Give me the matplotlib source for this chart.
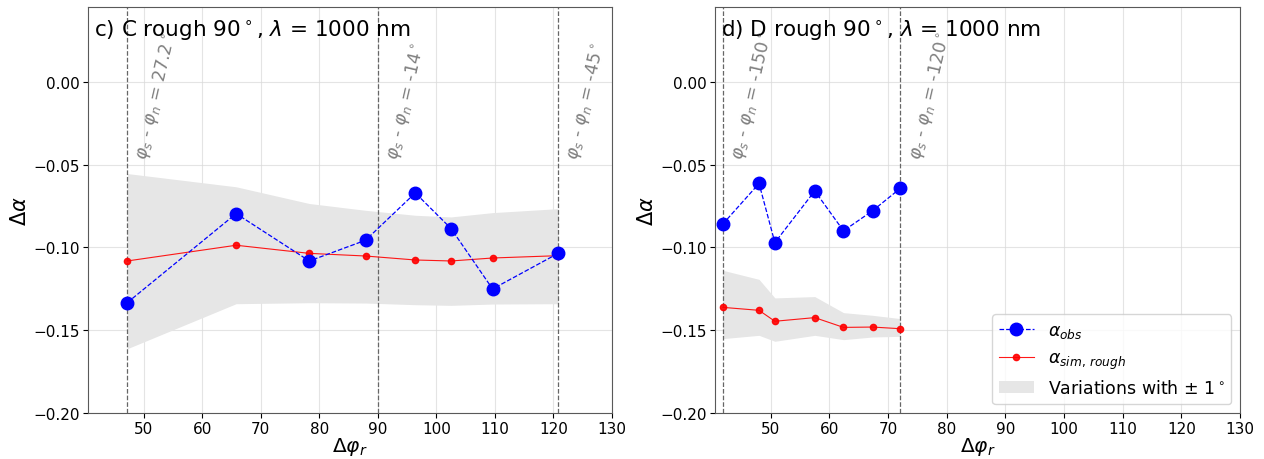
import numpy as np
import matplotlib
matplotlib.use("Agg")
import matplotlib.pyplot as plt
from matplotlib.lines import Line2D
from matplotlib.patches import Patch

# panel c) C rough
c_phi = [47.2, 65.8, 78.3, 87.9, 96.4, 102.5, 109.6, 120.8]
c_obs = [-0.1334, -0.0796, -0.1082, -0.0957, -0.0671, -0.0886, -0.1251, -0.1036]
c_sim = [-0.1082, -0.0987, -0.1036, -0.1052, -0.1076, -0.1082, -0.1064, -0.1050]
c_upper = [-0.0554, -0.0634, -0.0735, -0.0776, -0.0806, -0.0816, -0.0790, -0.0766]
c_lower = [-0.1612, -0.1340, -0.1334, -0.1336, -0.1346, -0.1350, -0.1342, -0.1340]
c_vlines = [47.2, 90.0, 120.8]
c_vlabels = ["27.2", "-14", "-45"]

# panel d) D rough
d_phi = [41.8, 48.0, 50.7, 57.5, 62.4, 67.35, 72.1]
d_obs = [-0.0860, -0.0614, -0.0971, -0.0659, -0.0900, -0.0779, -0.0643]
d_sim = [-0.1362, -0.1380, -0.1446, -0.1424, -0.1483, -0.1481, -0.1491]
d_upper = [-0.1138, -0.1193, -0.1305, -0.1297, -0.1394, -0.1410, -0.1430]
d_lower = [-0.1551, -0.1531, -0.1567, -0.1531, -0.1557, -0.1541, -0.1537]
d_vlines = [41.8, 72.1]
d_vlabels = ["-150", "-120"]

fig = plt.figure(figsize=(12.64, 4.6), dpi=100)
ax1 = fig.add_axes([0.0696, 0.1, 0.4146, 0.882])
ax2 = fig.add_axes([0.5657, 0.1, 0.4153, 0.882])


def draw_panel(ax, title, phi, obs, sim, upper, lower, vlines, vlabels):
    ax.fill_between(phi, lower, upper, color='0.9', lw=0, zorder=1)
    ax.plot(phi, sim, '.-', color='red', lw=0.8, ms=9, alpha=0.9, zorder=3)
    ax.plot(phi, obs, 'o--', color='blue', lw=0.9, ms=9, zorder=4)
    for xv, lab in zip(vlines, vlabels):
        ax.axvline(xv, color='0.4', ls='--', lw=0.9, zorder=2)
        ax.text(xv + 0.8, -0.048, r'$\varphi_s$ - $\varphi_n$ = ' + lab + r'$^\circ$',
                rotation=77, ha='left', va='bottom', color='gray', fontsize=12.5)
    ax.text(0.012, 0.975, title, transform=ax.transAxes, ha='left', va='top', fontsize=15.5)
    ax.set_xlim(40.5, 130)
    ax.set_ylim(-0.2, 0.045)
    ax.set_xticks(np.arange(50, 131, 10))
    ax.set_yticks([0.0, -0.05, -0.1, -0.15, -0.2])
    ax.set_yticklabels(['0.00', '\u22120.05', '\u22120.10', '\u22120.15', '\u22120.20'])
    ax.tick_params(labelsize=11, pad=2.5)
    ax.grid(True, color='0.85', lw=0.8, alpha=0.7, zorder=0)
    ax.set_axisbelow(True)
    ax.set_xlabel(r'$\Delta\varphi_r$', fontsize=14.5, labelpad=-1)
    ax.set_ylabel(r'$\Delta\alpha$', fontsize=15, labelpad=2)
    for sp in ax.spines.values():
        sp.set_color('0.35')


draw_panel(ax1, r'c) C rough 90$^\circ$, $\lambda$ = 1000 nm',
           c_phi, c_obs, c_sim, c_upper, c_lower, c_vlines, c_vlabels)
draw_panel(ax2, r'd) D rough 90$^\circ$, $\lambda$ = 1000 nm',
           d_phi, d_obs, d_sim, d_upper, d_lower, d_vlines, d_vlabels)

handles = [
    Line2D([], [], color='blue', ls='--', lw=0.9, marker='o', ms=9),
    Line2D([], [], color='red', ls='-', lw=0.8, marker='.', ms=9, alpha=0.9),
    Patch(facecolor='0.9', edgecolor='none'),
]
labels = [r'$\alpha_{obs}$', r'$\alpha_{sim,\,rough}$', r'Variations with $\pm$ 1$^\circ$']
ax2.legend(handles, labels, loc='lower right', fontsize=12.5, framealpha=0.8)

fig.savefig('out.png', dpi=100)
